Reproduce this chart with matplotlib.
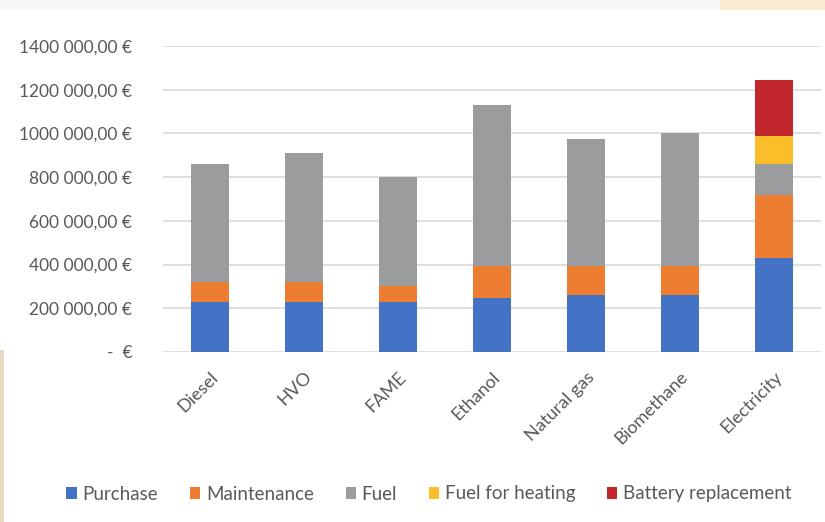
import matplotlib
matplotlib.use("Agg")
import matplotlib.pyplot as plt
from matplotlib.patches import Rectangle
import numpy as np

categories = ["Diesel", "HVO", "FAME", "Ethanol", "Natural gas", "Biomethane", "Electricity"]
purchase = [227000, 227000, 227000, 249000, 262000, 262000, 429000]
maintenance = [92000, 93000, 75000, 145000, 132000, 132000, 289000]
fuel = [543000, 589000, 499000, 736000, 581000, 607000, 141000]
fuel_heating = [0, 0, 0, 0, 0, 0, 129000]
battery = [0, 0, 0, 0, 0, 0, 257000]
series_names = ["Purchase", "Maintenance", "Fuel", "Fuel for heating", "Battery replacement"]
yticks = [0, 200000, 400000, 600000, 800000, 1000000, 1200000, 1400000]
ytick_labels = ["-  €", "200 000,00 €", "400 000,00 €", "600 000,00 €", "800 000,00 €",
                "1000 000,00 €", "1200 000,00 €", "1400 000,00 €"]

colors = ["#4472C4", "#ED7D31", "#9A9C9D", "#FBBE2A", "#C1272D"]
txt = "#595959"
plt.rcParams['font.family'] = ['Lato', 'DejaVu Sans']

fig = plt.figure(figsize=(8.25, 5.22), dpi=100)
# background decorations
fig.patches.append(Rectangle((0, 1 - 10/522), 1, 10/522, transform=fig.transFigure,
                             facecolor="#f7f7f7", edgecolor="none", zorder=-2))
fig.patches.append(Rectangle((720/825, 1 - 10/522), 105/825, 10/522, transform=fig.transFigure,
                             facecolor="#fcebcf", edgecolor="none", zorder=-1))
fig.patches.append(Rectangle((0, 0), 4/825, 1 - 350/522, transform=fig.transFigure,
                             facecolor="#e6d9bf", edgecolor="none", zorder=-1))

ax = fig.add_axes([163/825, 1 - 352/522, 658/825, (352 - 46)/522])
x = np.arange(len(categories))
w = 0.4
data = [purchase, maintenance, fuel, fuel_heating, battery]
bottom = np.zeros(len(categories))
handles = []
for vals, c, name in zip(data, colors, series_names):
    vals = np.array(vals, dtype=float)
    b = ax.bar(x, vals, w, bottom=bottom, color=c, label=name, zorder=3)
    handles.append(b)
    bottom += vals

ax.set_xlim(-0.5, len(categories) - 0.5)
ax.set_ylim(0, 1400000)
ax.set_yticks(yticks)
ax.set_yticklabels(ytick_labels, color=txt, fontsize=12.5)
ax.set_xticks(x)
ax.set_xticklabels(categories, rotation=45, ha="right", rotation_mode="anchor",
                   color=txt, fontsize=13)
ax.tick_params(axis="both", length=0)
ax.tick_params(axis="y", pad=22)
ax.tick_params(axis="x", pad=12)
ax.grid(axis="y", color="#d9d9d9", linewidth=1.2, zorder=0)
for s in ax.spines.values():
    s.set_visible(False)

fig.legend(handles=handles, labels=series_names, loc="center", ncol=5,
           bbox_to_anchor=(429/825, 1 - 494/522), frameon=False, fontsize=13.5,
           labelcolor=txt, handlelength=0.55, handleheight=0.55, handletextpad=0.3,
           columnspacing=1.7)

fig.savefig("out.png", dpi=100)
